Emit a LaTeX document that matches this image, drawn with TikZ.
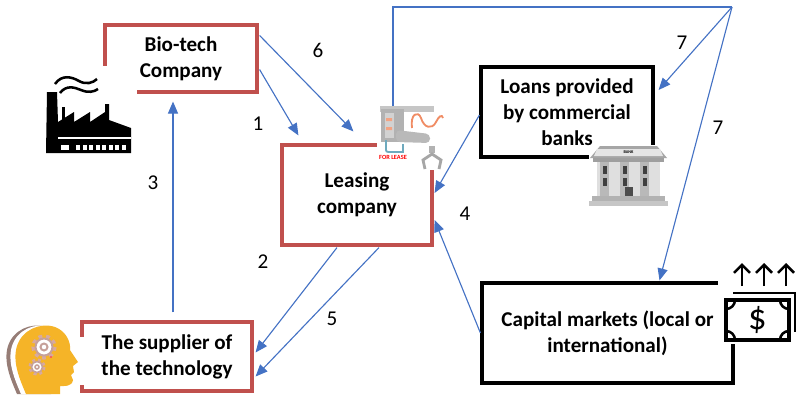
\documentclass[tikz,border=0pt]{standalone}
\usepackage{fontspec}
\setmainfont{Carlito}
\usetikzlibrary{positioning,calc,arrows.meta}
\definecolor{boxred}{RGB}{192,80,77}
\definecolor{flowblue}{RGB}{68,114,196}
\definecolor{headyellow}{RGB}{245,180,40}
\definecolor{headgray}{RGB}{150,125,118}
\definecolor{gearpink}{RGB}{215,170,160}
\definecolor{cableorange}{RGB}{240,140,100}
\definecolor{hoseblue}{RGB}{110,170,190}
\tikzset{%
  party/.style={
    draw=boxred,
    line width=2.2pt,
    align=center,
    font=\fontsize{15}{18.5}\selectfont\bfseries
  },
  lender/.style={
    party,
    draw=black
  },
  flow/.style={
    ->,
    draw=flowblue,
    line width=0.8pt
  },
  numlabel/.style={
    font=\fontsize{15}{18}\selectfont
  },
}

\begin{document}
\begin{tikzpicture}[x=0.025cm,y=-0.025cm,>={Triangle[length=3mm,width=2.5mm]}]
      \useasboundingbox (0,0) rectangle (796,397);

      \node[party,minimum width=3.8cm,minimum height=1.675cm] (bio) at (181,58.5) {Bio-tech\\Company};
      \node[party,minimum width=3.75cm,minimum height=2.5cm] (leasing) at (357,195) {Leasing\\company};
      \node[party,minimum width=4.25cm,minimum height=1.725cm] (supplier) at (167,356.5) {The supplier of\\the technology};
      \node[lender,minimum width=4.3cm,minimum height=2.25cm] (loans) at (567,112) {Loans provided\\by commercial\\banks};
      \node[lender,minimum width=6.275cm,minimum height=2.5cm] (capital) at (607.5,333) {Capital markets (local or\\international)};

      % factory
      \fill[white] (38,66) rectangle (137,160);
      \fill[black] (46,153) -- (47,92) -- (57,92) -- (58,122) -- (74,112) -- (74,122) -- (90,112)
        -- (90,122) -- (105,112) -- (105,104) -- (109,104) -- (109,120) -- (131,128) -- (131,153) -- cycle;
      \fill[black] (62,107) rectangle (65,122);
      \draw[white,line width=0.8pt] (58,138) -- (131,138);
      \fill[white] (61,145) rectangle (69,150);
      \foreach \i in {0,...,7}
        \fill[white] ({76+\i*6.5},145) rectangle +(4,5);
      \draw[line width=1.8pt] (55,84) .. controls (62,74) and (72,77) .. (79,81) .. controls (86,85) and (93,83) .. (97,79);
      \draw[line width=1.8pt] (60,93) .. controls (66,85) and (74,87) .. (81,90) .. controls (88,93) and (94,92) .. (98,89);

      % machine for lease
      \fill[white] (377,98) rectangle (446,170);
      \coordinate (mtop) at (393,106);
      \fill[gray!45] (380,106) rectangle (434,112);
      \fill[gray!60] (381,109) rectangle (404,142);
      \fill[gray!35] (385,113) rectangle (394,138);
      \fill[gray!55,rounded corners=3pt] (396,130) -- (430,134) -- (430,143) -- (396,142) -- cycle;
      \fill[cableorange!80] (386,118) rectangle (392,121) (386,127) rectangle (392,130);
      \draw[cableorange,line width=1.3pt] (412,128) .. controls (410,114) and (418,110) .. (421,118)
        .. controls (424,128) and (432,130) .. (436,122) .. controls (439,116) and (442,114) .. (443,118);
      \draw[hoseblue,line width=1.3pt] (386,140) -- (386,148) .. controls (386,152) .. (391,152) -- (403,152) -- (403,144);
      \node[text=red,font=\fontsize{4.5}{5}\selectfont\bfseries,inner sep=0pt] (lease) at (393,157.5) {FOR LEASE};
      \fill[gray!60] (429,146) rectangle (435,153);
      \draw[gray!70,line width=2pt] (425,169) -- (423,160) -- (432,154) -- (441,160) -- (439,169);

      % bank
      \fill[white] (589,145) rectangle (669,210);
      \fill[gray!70] (590,158) -- (600,146) -- (657,146) -- (667,158) -- cycle;
      \fill[gray!20] (597,149) -- (660,149) -- (663,156) -- (594,156) -- cycle;
      \node[font=\fontsize{3}{4}\selectfont\bfseries,inner sep=0pt] (banktag) at (628.5,152.5) {BANK};
      \fill[gray!75] (593,158) rectangle (664,162);
      \fill[gray!25] (597,162) rectangle (660,196);
      \foreach \x in {604,624,644} {
        \fill[gray!55] (\x-4,162) rectangle (\x+5,196);
        \fill[black!75] (\x-1,166) rectangle (\x+3,174);
        \fill[black!75] (\x-1,178) rectangle (\x+3,186);
      }
      \fill[black!70] (625,187) rectangle (633,196);
      \fill[gray!60] (592,196) rectangle (665,201);
      \fill[gray!45] (589,201) rectangle (668,206);

      % money
      \fill[white] (718,255) rectangle (796,344);
      \foreach \x in {742,764,786}
        \draw[-{Straight Barb[length=2mm,width=4mm]},line width=1.8pt] (\x,286) -- (\x,263);
      \draw[line width=2pt] (733,293) -- (795,293) -- (795,332);
      \draw[line width=2.2pt] (726,300) rectangle (789,340);
      \draw[line width=1.8pt] (735,300) arc[start angle=0,end angle=90,radius=9]
        (780,300) arc[start angle=180,end angle=90,radius=9]
        (735,340) arc[start angle=0,end angle=-90,radius=9]
        (780,340) arc[start angle=180,end angle=270,radius=9];
      \node[font=\fontsize{26}{26}\selectfont,inner sep=0pt] (dollar) at (757.5,320) {\$};

      % head
      \fill[white] (62,337) rectangle (85,385);
      \foreach \dx/\c in {-9/headgray,-5/white,0/headyellow}
        \fill[\c,shift={(\dx,0)}] (26,394) .. controls (20,380) and (12,362) .. (17,346)
          .. controls (22,330) and (40,322) .. (55,327) .. controls (66,331) and (71,342) .. (70,350)
          -- (78,362) -- (73,366) -- (74,372) -- (71,375) -- (73,380)
          .. controls (72,387) and (64,386) .. (60,386) -- (60,394) -- cycle;
      \draw[gearpink,line width=3pt,dash pattern=on 2.6pt off 2.6pt] (44,347) circle (10.5);
      \fill[white] (44,347) circle (8.5);
      \draw[gearpink!80!gray,line width=1.4pt] (44,347) circle (8.5) (44,347) circle (3.5);
      \draw[gearpink,line width=2.2pt,dash pattern=on 2pt off 2pt] (37,367) circle (7);
      \fill[white] (37,367) circle (5.5);
      \draw[gearpink!80!gray,line width=1.1pt] (37,367) circle (5.5) (37,367) circle (2);
      \fill[red!70] (51,357) circle (1.2);

      % flows between the parties
      \draw[flow] ($(bio.east)+(1,11)$) -- ($(leasing.north west)+(18,-8)$);
      \draw[flow] ($(bio.north east)+(1,12)$) -- ($(leasing.north west)+(73,-12)$);
      \draw[flow] ($(supplier.north)+(6,-8)$) -- ($(bio.south)+(-8,8)$);
      \draw[flow] ($(leasing.south)+(-20,1)$) -- ($(supplier.east)+(2,-4)$);
      \draw[flow] ($(leasing.south)+(22,1)$) -- ($(supplier.east)+(2,20)$);
      \draw[flow] (capital.west) -- ($(leasing.east)+(1,25)$);
      \draw[flow] ($(loans.west)+(0,3)$) -- ($(leasing.east)+(1,-2)$);
      \coordinate (hub) at (732,7);
      \draw[flowblue,line width=0.8pt] (mtop) |- (hub);
      \draw[flow] (hub) -- ($(loans.east)+(4,-22)$);
      \draw[flow] (hub) -- ($(capital.north)+(52,-1)$);

      \node[numlabel] (n1) at (258,124) {1};
      \node[numlabel] (n2) at (263,262) {2};
      \node[numlabel] (n3) at (153,183) {3};
      \node[numlabel] (n4) at (465,214) {4};
      \node[numlabel] (n5) at (332,319) {5};
      \node[numlabel] (n6) at (318,50) {6};
      \node[numlabel] (n7a) at (682,43) {7};
      \node[numlabel] (n7b) at (718,128) {7};
\end{tikzpicture}
\end{document}
